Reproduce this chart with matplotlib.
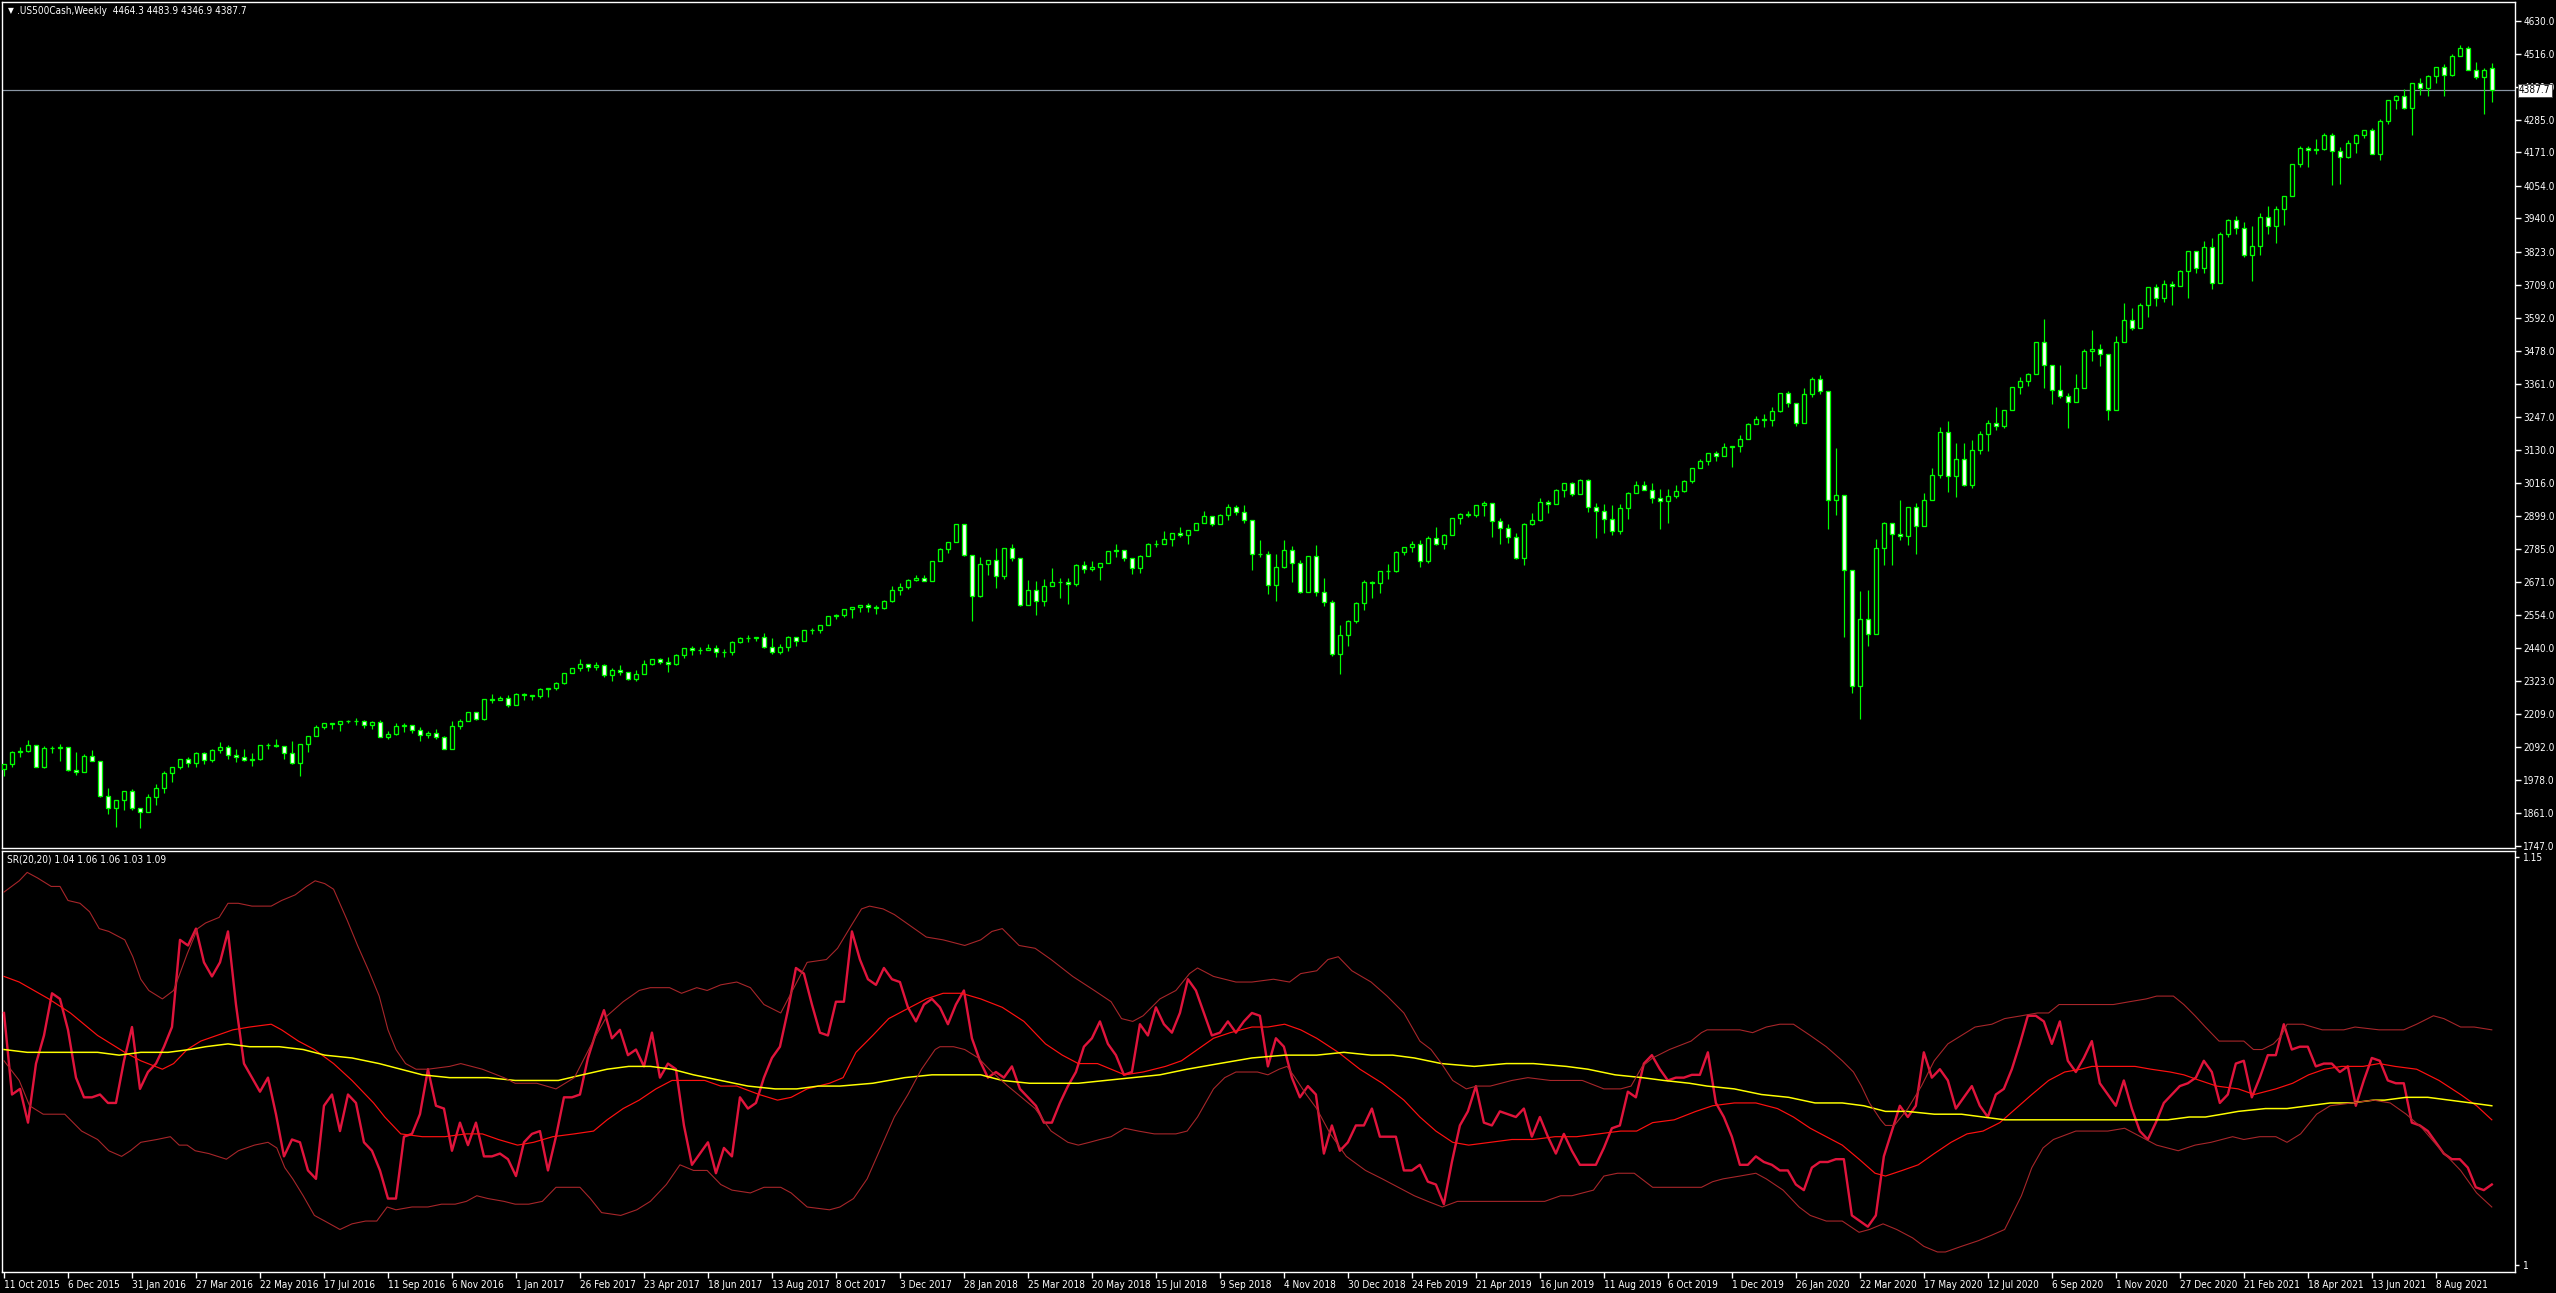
import numpy as np
import matplotlib
matplotlib.use("Agg")
import matplotlib.pyplot as plt
from matplotlib.transforms import blended_transform_factory

# weekly bars, 11 Oct 2015 .. 26 Sep 2021
opens = [
    2014.9, 2033.1, 2075.2, 2079.4, 2099.2, 2023.0, 2089.2, 2090.1, 2091.7, 2012.4, 2005.6, 2061.0,
    2043.9, 1922.0, 1880.3, 1906.9, 1940.2, 1880.1, 1864.8, 1917.8, 1948.1, 2000.0, 2022.2, 2049.6,
    2035.9, 2072.8, 2047.6, 2080.7, 2091.6, 2065.3, 2057.1, 2046.6, 2052.3, 2099.1, 2099.1, 2096.1,
    2071.2, 2037.4, 2103.0, 2129.9, 2161.7, 2175.0, 2173.6, 2182.9, 2184.1, 2183.9, 2169.0, 2180.0,
    2127.8, 2139.2, 2164.7, 2168.3, 2153.7, 2133.0, 2141.2, 2126.4, 2085.2, 2164.5, 2181.9, 2213.4,
    2192.0, 2259.5, 2258.1, 2263.8,
    2238.8, 2277.0, 2274.6, 2271.3, 2294.7, 2297.4, 2316.1, 2351.2, 2367.3, 2383.1, 2372.6, 2378.3,
    2344.0, 2362.7, 2355.5, 2329.0, 2348.7, 2384.2, 2399.3, 2390.9, 2381.7, 2415.8, 2439.1, 2431.8,
    2433.2, 2438.3, 2423.4, 2425.2, 2459.3, 2472.5, 2472.1, 2476.8, 2441.3, 2425.6, 2443.1, 2476.6,
    2461.4, 2500.2, 2502.2, 2519.4, 2549.3, 2553.2, 2575.2, 2581.1, 2587.8, 2582.3, 2578.9, 2602.4,
    2642.2, 2651.5, 2675.8, 2683.3,
    2673.6, 2743.2, 2786.2, 2810.3, 2872.9, 2762.1, 2619.6, 2732.2, 2747.3, 2691.3, 2786.6, 2752.0,
    2588.3, 2640.9, 2604.5, 2656.3, 2670.1, 2669.9, 2663.4, 2727.7, 2713.0, 2721.3, 2734.6, 2779.0,
    2779.7, 2754.9, 2718.4, 2759.8, 2801.3, 2801.8, 2818.8, 2840.4, 2833.3, 2850.1, 2874.7, 2901.5,
    2871.7, 2905.0, 2929.7, 2914.0, 2885.6, 2767.1, 2767.8, 2658.7, 2723.1, 2781.0, 2736.3, 2632.6,
    2760.2, 2633.1, 2600.0, 2416.6,
    2485.7, 2531.9, 2596.3, 2670.7, 2664.8, 2706.5, 2707.9, 2775.6, 2792.7, 2803.7, 2743.1, 2822.5,
    2800.7, 2834.4, 2892.7, 2907.4, 2905.0, 2939.9, 2945.6, 2881.4, 2859.5, 2826.1, 2752.1, 2873.3,
    2887.0, 2950.5, 2941.8, 2990.4, 3013.8, 2976.6, 3025.9, 2932.1, 2918.7, 2888.7, 2847.1, 2926.5,
    2978.7, 3007.4, 2992.1, 2961.8, 2952.0, 2970.3, 2986.2, 3022.6, 3066.9, 3093.1, 3120.5, 3110.3,
    3141.0, 3145.9, 3168.8, 3221.2,
    3240.0, 3234.9, 3265.4, 3329.6, 3295.5, 3225.5, 3327.7, 3380.2, 3337.8, 2954.2, 2972.4, 2711.0,
    2304.9, 2541.5, 2488.7, 2789.8, 2874.6, 2836.7, 2830.7, 2929.8, 2863.7, 2955.5, 3044.3, 3193.9,
    3041.3, 3097.7, 3009.1, 3130.0, 3185.0, 3224.7, 3215.6, 3271.1, 3351.3, 3372.9, 3397.2, 3508.0,
    3427.0, 3341.0, 3319.5, 3298.5, 3348.4, 3477.1, 3483.8, 3465.4, 3270.0, 3509.4, 3585.2, 3557.5,
    3638.4, 3699.1, 3663.5, 3709.4, 3703.1,
    3756.1, 3824.7, 3768.3, 3841.5, 3714.2, 3886.8, 3934.8, 3906.7, 3811.2, 3841.9, 3943.3, 3913.1,
    3974.5, 4019.9, 4128.8, 4185.5, 4180.2, 4181.2, 4232.6, 4173.9, 4155.9, 4204.1, 4229.9, 4247.4,
    4166.5, 4280.7, 4352.3, 4369.6, 4327.2, 4411.8, 4395.3, 4436.5, 4468.0, 4441.7, 4509.4, 4535.4,
    4458.6, 4433.0, 4464.3,
]
highs = [
    2034, 2079, 2094, 2116, 2086, 2097, 2095, 2104, 2090, 2076, 2067, 2081,
    2038, 1950, 1908, 1940, 1947, 1881, 1930, 1962, 2009, 2022, 2052, 2056, 2074, 2075, 2087, 2111,
    2099, 2084, 2084, 2071, 2100, 2105, 2120, 2094, 2113, 2103, 2132, 2169, 2176, 2178, 2183, 2188,
    2194, 2187, 2184, 2187, 2150, 2176, 2175, 2169, 2161, 2150, 2154, 2131, 2182, 2189, 2214, 2214,
    2260, 2278, 2272, 2273,
    2282, 2280, 2276, 2300, 2300, 2319, 2352, 2368, 2401, 2384, 2390, 2382, 2370, 2378, 2356, 2361,
    2398, 2399, 2403, 2406, 2418, 2440, 2446, 2441, 2454, 2450, 2434, 2464, 2478, 2484, 2478, 2491,
    2474, 2454, 2481, 2475, 2500, 2509, 2520, 2552, 2557, 2575, 2582, 2588, 2597, 2590, 2605, 2657,
    2665, 2679, 2695, 2692,
    2743, 2787, 2810, 2873, 2870, 2763, 2755, 2747, 2789, 2787, 2802, 2754, 2675, 2672, 2680, 2717,
    2683, 2682, 2732, 2743, 2742, 2736, 2779, 2801, 2774, 2753, 2763, 2804, 2816, 2848, 2841, 2863,
    2851, 2877, 2917, 2900, 2908, 2941, 2940, 2939, 2886, 2816, 2778, 2767, 2815, 2795, 2746, 2760,
    2800, 2685, 2607, 2520,
    2538, 2598, 2675, 2672, 2709, 2732, 2776, 2793, 2813, 2816, 2830, 2860, 2836, 2893, 2911, 2917,
    2940, 2954, 2931, 2892, 2872, 2841, 2876, 2910, 2964, 2955, 2996, 3014, 3018, 3028, 3029, 2945,
    2943, 2939, 2941, 2985, 3021, 3022, 3016, 2993, 2994, 3008, 3027, 3067, 3098, 3121, 3128, 3154,
    3146, 3183, 3226, 3248,
    3258, 3282, 3330, 3338, 3285, 3347, 3385, 3393, 3259, 3137, 2882, 2553, 2637, 2641, 2819, 2880,
    2868, 2955, 2932, 2945, 2981, 3068, 3212, 3233, 3156, 3155, 3165, 3198, 3236, 3280, 3272, 3352,
    3387, 3399, 3509, 3588, 3425, 3428, 3329, 3397, 3482, 3550, 3502, 3465, 3530, 3645, 3628, 3644,
    3699, 3712, 3726, 3723, 3760,
    3826, 3823, 3861, 3870, 3894, 3938, 3950, 3929, 3915, 3960, 3983, 3982, 4020, 4129, 4192, 4194,
    4218, 4237, 4238, 4188, 4213, 4234, 4250, 4257, 4287, 4355, 4372, 4393, 4415, 4430, 4442, 4468,
    4480, 4513, 4546, 4541, 4486, 4466, 4483.9,
]
lows = [
    1990, 2022, 2058, 2075, 2022, 2019, 2070, 2042, 2008, 1993, 2005, 2043,
    1918, 1857, 1812, 1872, 1872, 1810, 1872, 1891, 1931, 1969, 2017, 2022, 2023, 2033, 2039, 2073,
    2052, 2039, 2044, 2026, 2047, 2085, 2092, 2050, 2032, 1992, 2075, 2132, 2155, 2156, 2148, 2175,
    2168, 2160, 2157, 2127, 2119, 2133, 2145, 2142, 2114, 2124, 2119, 2084, 2097, 2156, 2183, 2188,
    2187, 2248, 2256, 2233,
    2245, 2258, 2258, 2264, 2267, 2293, 2313, 2352, 2358, 2358, 2360, 2336, 2322, 2344, 2328, 2322,
    2374, 2378, 2383, 2353, 2379, 2403, 2415, 2419, 2430, 2406, 2407, 2415, 2455, 2459, 2463, 2437,
    2417, 2418, 2428, 2447, 2474, 2488, 2491, 2520, 2540, 2547, 2544, 2566, 2566, 2557, 2576, 2598,
    2624, 2646, 2673, 2673,
    2683, 2743, 2769, 2808, 2759, 2533, 2617, 2694, 2647, 2681, 2742, 2585, 2594, 2553, 2586, 2660,
    2612, 2594, 2654, 2701, 2707, 2676, 2735, 2755, 2742, 2698, 2699, 2770, 2790, 2802, 2796, 2826,
    2802, 2850, 2876, 2864, 2873, 2887, 2903, 2874, 2710, 2755, 2628, 2603, 2717, 2670, 2631, 2649,
    2621, 2584, 2409, 2347,
    2444, 2525, 2570, 2612, 2631, 2681, 2705, 2765, 2775, 2722, 2735, 2798, 2785, 2848, 2873, 2898,
    2898, 2901, 2825, 2801, 2805, 2750, 2728, 2870, 2883, 2912, 2952, 2966, 2970, 2976, 2914, 2822,
    2840, 2834, 2836, 2891, 2979, 2990, 2946, 2856, 2874, 2963, 2984, 3016, 3066, 3078, 3091, 3115,
    3070, 3124, 3184, 3223,
    3212, 3215, 3264, 3281, 3214, 3235, 3315, 3328, 2856, 2902, 2478, 2280, 2192, 2447, 2597, 2728,
    2727, 2816, 2797, 2766, 2910, 2969, 3032, 2984, 2965, 3004, 2999, 3115, 3127, 3200, 3209, 3285,
    3327, 3355, 3405, 3349, 3293, 3313, 3209, 3324, 3354, 3441, 3424, 3234, 3279, 3512, 3551, 3559,
    3594, 3634, 3647, 3636, 3703,
    3663, 3750, 3750, 3694, 3726, 3874, 3885, 3805, 3723, 3813, 3884, 3853, 3918, 4034, 4118, 4118,
    4164, 4179, 4057, 4062, 4150, 4168, 4220, 4164, 4144, 4271, 4321, 4322, 4233, 4372, 4368, 4413,
    4367, 4437, 4513, 4457, 4428, 4305, 4346.9,
]
closes = [
    2033.1, 2075.2, 2079.4, 2099.2, 2023.0, 2089.2, 2090.1, 2091.7, 2012.4, 2005.6, 2061.0, 2043.9,
    1922.0, 1880.3, 1906.9, 1940.2, 1880.1, 1864.8, 1917.8, 1948.1, 2000.0, 2022.2, 2049.6, 2035.9,
    2072.8, 2047.6, 2080.7, 2091.6, 2065.3, 2057.1, 2046.6, 2052.3, 2099.1, 2099.1, 2096.1, 2071.2,
    2037.4, 2103.0, 2129.9, 2161.7, 2175.0, 2173.6, 2182.9, 2184.1, 2183.9, 2169.0, 2180.0, 2127.8,
    2139.2, 2164.7, 2168.3, 2153.7, 2133.0, 2141.2, 2126.4, 2085.2, 2164.5, 2181.9, 2213.4, 2192.0,
    2259.5, 2258.1, 2263.8, 2238.8,
    2277.0, 2274.6, 2271.3, 2294.7, 2297.4, 2316.1, 2351.2, 2367.3, 2383.1, 2372.6, 2378.3, 2344.0,
    2362.7, 2355.5, 2329.0, 2348.7, 2384.2, 2399.3, 2390.9, 2381.7, 2415.8, 2439.1, 2431.8, 2433.2,
    2438.3, 2423.4, 2425.2, 2459.3, 2472.5, 2472.1, 2476.8, 2441.3, 2425.6, 2443.1, 2476.6, 2461.4,
    2500.2, 2502.2, 2519.4, 2549.3, 2553.2, 2575.2, 2581.1, 2587.8, 2582.3, 2578.9, 2602.4, 2642.2,
    2651.5, 2675.8, 2683.3, 2673.6,
    2743.2, 2786.2, 2810.3, 2872.9, 2762.1, 2619.6, 2732.2, 2747.3, 2691.3, 2786.6, 2752.0, 2588.3,
    2640.9, 2604.5, 2656.3, 2670.1, 2669.9, 2663.4, 2727.7, 2713.0, 2721.3, 2734.6, 2779.0, 2779.7,
    2754.9, 2718.4, 2759.8, 2801.3, 2801.8, 2818.8, 2840.4, 2833.3, 2850.1, 2874.7, 2901.5, 2871.7,
    2905.0, 2929.7, 2914.0, 2885.6, 2767.1, 2767.8, 2658.7, 2723.1, 2781.0, 2736.3, 2632.6, 2760.2,
    2633.1, 2600.0, 2416.6, 2485.7,
    2531.9, 2596.3, 2670.7, 2664.8, 2706.5, 2707.9, 2775.6, 2792.7, 2803.7, 2743.1, 2822.5, 2800.7,
    2834.4, 2892.7, 2907.4, 2905.0, 2939.9, 2945.6, 2881.4, 2859.5, 2826.1, 2752.1, 2873.3, 2887.0,
    2950.5, 2941.8, 2990.4, 3013.8, 2976.6, 3025.9, 2932.1, 2918.7, 2888.7, 2847.1, 2926.5, 2978.7,
    3007.4, 2992.1, 2961.8, 2952.0, 2970.3, 2986.2, 3022.6, 3066.9, 3093.1, 3120.5, 3110.3, 3141.0,
    3145.9, 3168.8, 3221.2, 3240.0,
    3234.9, 3265.4, 3329.6, 3295.5, 3225.5, 3327.7, 3380.2, 3337.8, 2954.2, 2972.4, 2711.0, 2304.9,
    2541.5, 2488.7, 2789.8, 2874.6, 2836.7, 2830.7, 2929.8, 2863.7, 2955.5, 3044.3, 3193.9, 3041.3,
    3097.7, 3009.1, 3130.0, 3185.0, 3224.7, 3215.6, 3271.1, 3351.3, 3372.9, 3397.2, 3508.0, 3427.0,
    3341.0, 3319.5, 3298.5, 3348.4, 3477.1, 3483.8, 3465.4, 3270.0, 3509.4, 3585.2, 3557.5, 3638.4,
    3699.1, 3663.5, 3709.4, 3703.1, 3756.1,
    3824.7, 3768.3, 3841.5, 3714.2, 3886.8, 3934.8, 3906.7, 3811.2, 3841.9, 3943.3, 3913.1, 3974.5,
    4019.9, 4128.8, 4185.5, 4180.2, 4181.2, 4232.6, 4173.9, 4155.9, 4204.1, 4229.9, 4247.4, 4166.5,
    4280.7, 4352.3, 4369.6, 4327.2, 4411.8, 4395.3, 4436.5, 4468.0, 4441.7, 4509.4, 4535.4, 4458.6,
    4433.0, 4459.5, 4387.7,
]

# SR(20,20) main line, one value per bar
sr_main = [
    1.092, 1.063, 1.065, 1.053, 1.074, 1.084, 1.099, 1.097, 1.086, 1.069, 1.062, 1.062, 1.063, 1.060,
    1.060, 1.075, 1.087, 1.065, 1.071, 1.074, 1.080, 1.087, 1.118, 1.116, 1.122, 1.110, 1.105, 1.110,
    1.121, 1.095, 1.074, 1.069, 1.064, 1.069, 1.056, 1.041, 1.047, 1.046, 1.036, 1.033, 1.059, 1.063,
    1.050, 1.063, 1.060, 1.046, 1.043, 1.036, 1.026, 1.026, 1.048, 1.049, 1.056, 1.072, 1.059, 1.058,
    1.043, 1.053, 1.045, 1.053, 1.041, 1.041, 1.042, 1.040, 1.034, 1.046, 1.049, 1.050, 1.036, 1.048,
    1.062, 1.062, 1.063, 1.076, 1.085, 1.093, 1.083, 1.086, 1.077, 1.079, 1.073, 1.085, 1.069, 1.074,
    1.072, 1.052, 1.038, 1.042, 1.046, 1.035, 1.044, 1.041, 1.062, 1.058, 1.060, 1.069, 1.076, 1.080,
    1.093, 1.108, 1.106, 1.095, 1.085, 1.084, 1.096, 1.096,
    1.121, 1.111, 1.104, 1.102, 1.108, 1.104, 1.103, 1.094, 1.089, 1.095, 1.097, 1.094, 1.088, 1.095,
    1.100, 1.083, 1.075, 1.069, 1.071, 1.069, 1.073, 1.065, 1.062, 1.059, 1.053, 1.053, 1.060, 1.066,
    1.071, 1.080, 1.083, 1.089, 1.081, 1.077, 1.070, 1.071, 1.088, 1.084, 1.094, 1.088, 1.085, 1.092,
    1.104, 1.100, 1.092, 1.084, 1.085, 1.089, 1.085, 1.089, 1.092, 1.091, 1.073, 1.083, 1.080, 1.069,
    1.062, 1.066, 1.063, 1.042, 1.052, 1.043, 1.046, 1.052, 1.052, 1.058, 1.048, 1.048, 1.048, 1.036,
    1.036, 1.038, 1.032, 1.031, 1.024, 1.039, 1.052, 1.057, 1.066, 1.053, 1.052, 1.057, 1.056, 1.055,
    1.058, 1.048, 1.055, 1.048, 1.042, 1.049, 1.043, 1.038, 1.038, 1.038, 1.044, 1.051, 1.052, 1.064,
    1.062, 1.074, 1.077, 1.072, 1.068, 1.069,
    1.069, 1.070, 1.070, 1.078, 1.060, 1.055, 1.048, 1.038, 1.038, 1.041, 1.039, 1.038, 1.036, 1.036,
    1.031, 1.029, 1.037, 1.039, 1.039, 1.040, 1.040, 1.020, 1.018, 1.016, 1.020, 1.041, 1.050, 1.059,
    1.055, 1.059, 1.078, 1.069, 1.072, 1.068, 1.058, 1.062, 1.066, 1.059, 1.055, 1.063, 1.065, 1.072,
    1.081, 1.091, 1.091, 1.089, 1.081, 1.089, 1.075, 1.071, 1.076, 1.082, 1.067, 1.063, 1.059, 1.068,
    1.058, 1.050, 1.047, 1.053, 1.060, 1.063, 1.066, 1.067, 1.069, 1.075, 1.071, 1.060, 1.063, 1.074,
    1.075, 1.062, 1.069, 1.077, 1.077, 1.088, 1.079, 1.080, 1.080, 1.073, 1.074, 1.074, 1.071, 1.073,
    1.059, 1.068, 1.076, 1.075, 1.068, 1.067, 1.067, 1.053, 1.052, 1.050, 1.046, 1.042, 1.040, 1.040,
    1.037, 1.030, 1.029, 1.031,
]

# smoother lines, read at the bar positions given in the *_x lists
upper_x = [0, 1.9, 2.9, 4.2, 5.9, 7.0, 8.0, 9.5, 10.7, 11.9, 13.1, 15.1, 16.1, 17.1, 18.1, 19.8, 21.2,
           22.9, 24.2, 25.2, 26.9, 28.0, 29.3, 31.0, 33.4, 34.7, 36.4, 37.8, 38.9, 40.1, 41.2, 42.9,
           44.2, 45.6, 46.9, 48.0, 49.0, 50.2, 51.5, 53.0, 55.7, 57.1, 59.8, 62.5, 63.9, 66.6, 69.0,
           71.3, 74.0, 75.4, 77.4, 79.4, 80.8, 83.2, 84.7, 86.6, 87.9, 89.6, 91.6, 93.3, 95.0, 97.1,
           100.4, 102.8, 104.2, 105.9, 107.2, 108.2, 109.9, 111.3, 113.3, 115.3, 117.4, 120.1, 122.1,
           123.5, 124.8, 126.9, 128.9, 130.9, 133.6, 136.3, 138.4, 139.7, 141.1, 142.4, 144.5, 146.5,
           148.2, 149.2, 151.2, 154.0, 156.0, 158.7, 160.7, 162.1, 164.1, 165.5, 166.8, 168.5, 170.9,
           172.9, 175.0, 177.0, 178.4, 179.7, 181.1, 182.8, 184.1, 185.8, 188.5, 190.5, 193.3, 197.3,
           200.0, 202.1, 203.4, 204.8, 206.1, 208.2, 210.9, 212.2, 212.9, 214.9, 217.0, 218.6, 220.3,
           222.0, 223.7, 225.8, 227.8, 229.8, 231.2, 232.2, 233.2, 234.6, 235.2, 236.3, 238.0, 239.7,
           241.3, 243.0, 244.7, 246.4, 248.5, 250.1, 252.2, 254.2, 255.6, 256.9, 259.0, 261.0, 263.7,
           265.7, 267.8, 269.1, 271.2, 272.5, 273.9, 275.2, 276.9, 278.3, 280.0, 281.2, 282.3, 283.7,
           284.7, 285.4, 287.4, 289.8, 292.5, 293.9, 296.9, 300.0, 301.6, 303.7, 305.0, 307.1, 308.8,
           311.0]
upper_y = [1.135, 1.139, 1.142, 1.140, 1.137, 1.137, 1.132, 1.131, 1.128, 1.122, 1.121, 1.118, 1.112,
           1.104, 1.100, 1.097, 1.100, 1.113, 1.122, 1.124, 1.126, 1.131, 1.131, 1.130, 1.130, 1.132,
           1.134, 1.137, 1.139, 1.138, 1.136, 1.125, 1.116, 1.107, 1.098, 1.086, 1.079, 1.074, 1.072,
           1.072, 1.073, 1.074, 1.072, 1.069, 1.067, 1.067, 1.065, 1.069, 1.084, 1.091, 1.096, 1.100,
           1.101, 1.101, 1.099, 1.101, 1.100, 1.102, 1.103, 1.101, 1.095, 1.092, 1.110, 1.111, 1.115,
           1.123, 1.129, 1.130, 1.129, 1.127, 1.123, 1.119, 1.118, 1.116, 1.118, 1.121, 1.122, 1.116,
           1.115, 1.111, 1.105, 1.100, 1.096, 1.090, 1.089, 1.091, 1.097, 1.100, 1.106, 1.108, 1.105,
           1.103, 1.103, 1.104, 1.103, 1.106, 1.107, 1.111, 1.112, 1.107, 1.103, 1.098, 1.092, 1.082,
           1.079, 1.074, 1.068, 1.065, 1.066, 1.066, 1.068, 1.069, 1.068, 1.068, 1.065, 1.065, 1.066,
           1.073, 1.076, 1.079, 1.082, 1.085, 1.086, 1.086, 1.086, 1.085, 1.087, 1.088, 1.088, 1.084,
           1.080, 1.075, 1.071, 1.066, 1.060, 1.054, 1.052, 1.052, 1.058, 1.066, 1.075, 1.081, 1.084,
           1.087, 1.088, 1.090, 1.091, 1.092, 1.092, 1.095, 1.095, 1.095, 1.095, 1.096, 1.097, 1.098,
           1.098, 1.095, 1.091, 1.087, 1.082, 1.082, 1.082, 1.079, 1.079, 1.081, 1.084, 1.088, 1.088,
           1.086, 1.086, 1.087, 1.086, 1.086, 1.088, 1.091, 1.090, 1.087, 1.087, 1.086]

lower_x = [0, 1.9, 3.2, 4.9, 7.6, 9.7, 11.7, 13.1, 14.7, 15.8, 17.1, 19.1, 20.8, 21.9, 22.9, 23.9, 25.6,
           27.8, 29.3, 31.3, 33.0, 34.1, 35.1, 36.1, 37.4, 38.8, 40.1, 42.0, 43.5, 45.2, 46.6, 47.9,
           49.0, 51.0, 53.0, 54.7, 56.4, 57.8, 59.1, 60.5, 62.5, 63.9, 65.6, 67.3, 69.0, 70.3, 72.0,
           73.3, 74.7, 77.1, 79.1, 80.8, 82.8, 84.5, 86.2, 87.9, 89.6, 91.0, 93.3, 95.0, 97.1, 98.4,
           100.4, 103.2, 104.5, 106.2, 107.9, 109.6, 111.3, 113.0, 114.7, 116.4, 117.0, 118.7, 120.1,
           121.8, 123.5, 125.5, 127.2, 128.9, 130.9, 133.0, 134.3, 135.7, 137.0, 138.4, 140.1, 141.8,
           143.8, 146.5, 147.9, 149.2, 151.2, 152.6, 154.0, 156.7, 158.0, 159.4, 160.4, 161.4, 162.8,
           164.1, 165.8, 167.8, 170.2, 172.3, 174.3, 176.3, 178.0, 179.8, 181.7, 183.8, 185.8, 189.2,
           192.6, 194.6, 196.0, 198.7, 200.0, 201.7, 203.8, 206.1, 208.8, 212.2, 213.6, 214.9, 217.0,
           219.0, 220.3, 222.4, 224.4, 225.8, 227.8, 229.8, 231.9, 233.2, 234.9, 236.6, 238.6, 240.0,
           241.7, 242.7, 244.7, 246.8, 248.5, 250.1, 252.2, 253.5, 254.9, 256.2, 259.0, 261.0, 263.0,
           265.1, 267.1, 269.1, 271.8, 273.9, 275.9, 278.6, 280.0, 282.0, 284.0, 285.4, 287.1, 289.1,
           290.8, 293.5, 296.2, 298.3, 300.3, 302.3, 304.4, 307.1, 309.1, 311.0]
lower_y = [1.075, 1.068, 1.059, 1.056, 1.056, 1.050, 1.047, 1.043, 1.041, 1.043, 1.046, 1.047, 1.048,
           1.045, 1.045, 1.043, 1.042, 1.040, 1.043, 1.045, 1.046, 1.044, 1.037, 1.033, 1.027, 1.020,
           1.018, 1.015, 1.017, 1.018, 1.018, 1.023, 1.022, 1.023, 1.023, 1.024, 1.024, 1.025, 1.027,
           1.026, 1.025, 1.024, 1.024, 1.025, 1.030, 1.030, 1.030, 1.026, 1.021, 1.020, 1.022, 1.025,
           1.031, 1.038, 1.036, 1.036, 1.031, 1.029, 1.028, 1.030, 1.030, 1.028, 1.023, 1.022, 1.023,
           1.026, 1.033, 1.044, 1.055, 1.063, 1.072, 1.079, 1.080, 1.080, 1.079, 1.076, 1.071, 1.066,
           1.062, 1.058, 1.050, 1.046, 1.045, 1.046, 1.047, 1.048, 1.051, 1.050, 1.049, 1.049, 1.050,
           1.055, 1.065, 1.069, 1.071, 1.071, 1.070, 1.072, 1.073, 1.069, 1.063, 1.058, 1.049, 1.041,
           1.036, 1.033, 1.030, 1.027, 1.025, 1.023, 1.025, 1.025, 1.025, 1.025, 1.025, 1.027, 1.027,
           1.029, 1.034, 1.035, 1.035, 1.030, 1.030, 1.030, 1.032, 1.033, 1.034, 1.035, 1.033, 1.029,
           1.023, 1.020, 1.018, 1.018, 1.014, 1.015, 1.017, 1.015, 1.012, 1.009, 1.007, 1.007, 1.009,
           1.011, 1.013, 1.015, 1.027, 1.037, 1.044, 1.047, 1.050, 1.050, 1.050, 1.051, 1.048, 1.045,
           1.043, 1.045, 1.046, 1.048, 1.047, 1.048, 1.048, 1.046, 1.049, 1.056, 1.059, 1.060, 1.061,
           1.060, 1.056, 1.051, 1.044, 1.036, 1.028, 1.023]

mid_x = [0, 1.9, 5.6, 8.3, 11.7, 15.1, 17.1, 19.8, 21.2, 22.9, 24.6, 26.6, 28.6, 30.7, 33.4, 34.7, 36.8,
         38.8, 41.2, 43.5, 46.2, 47.6, 49.6, 52.3, 55.1, 57.8, 59.8, 61.8, 64.2, 66.2, 68.6, 71.3, 73.7,
         75.4, 77.4, 79.4, 81.5, 83.5, 85.5, 87.6, 89.6, 91.6, 94.4, 96.7, 98.4, 100.4, 103.2, 104.9,
         106.5, 108.6, 110.6, 112.6, 115.3, 117.4, 119.7, 122.1, 124.8, 127.5, 130.2, 132.3, 134.3,
         136.7, 138.4, 140.1, 142.4, 145.2, 147.2, 149.2, 151.2, 153.3, 156.0, 158.0, 160.1, 162.1,
         164.1, 166.8, 169.5, 172.3, 175.0, 177.0, 179.0, 181.1, 183.1, 185.8, 188.5, 191.2, 193.9,
         196.6, 199.4, 202.1, 204.1, 206.1, 208.8, 211.5, 213.6, 216.3, 219.0, 221.7, 223.7, 225.8,
         227.8, 229.8, 231.9, 233.9, 235.2, 237.3, 239.3, 241.3, 243.4, 245.4, 247.4, 249.5, 251.5,
         253.5, 255.6, 257.6, 259.6, 261.0, 263.7, 266.4, 268.4, 270.8, 272.5, 274.5, 276.6, 279.3,
         281.3, 284.0, 286.1, 288.1, 290.1, 292.2, 294.9, 296.9, 298.9, 301.6, 304.4, 307.1, 309.1,
         311.0]
mid_y = [1.105, 1.103, 1.097, 1.092, 1.084, 1.078, 1.075, 1.072, 1.074, 1.079, 1.082, 1.084, 1.086,
         1.087, 1.088, 1.086, 1.082, 1.079, 1.074, 1.068, 1.060, 1.055, 1.049, 1.048, 1.048, 1.049,
         1.049, 1.047, 1.045, 1.046, 1.048, 1.049, 1.050, 1.054, 1.058, 1.061, 1.065, 1.068, 1.068,
         1.068, 1.066, 1.066, 1.063, 1.061, 1.062, 1.065, 1.067, 1.069, 1.078, 1.084, 1.090, 1.093,
         1.097, 1.099, 1.099, 1.097, 1.094, 1.089, 1.081, 1.077, 1.074, 1.074, 1.072, 1.070, 1.071,
         1.073, 1.075, 1.079, 1.083, 1.085, 1.087, 1.087, 1.088, 1.086, 1.083, 1.078, 1.072, 1.067,
         1.061, 1.055, 1.050, 1.046, 1.045, 1.046, 1.047, 1.047, 1.048, 1.048, 1.049, 1.050, 1.050,
         1.053, 1.054, 1.057, 1.059, 1.060, 1.060, 1.058, 1.055, 1.051, 1.048, 1.045, 1.040, 1.035,
         1.034, 1.036, 1.038, 1.042, 1.046, 1.049, 1.050, 1.053, 1.058, 1.063, 1.068, 1.071, 1.072,
         1.073, 1.073, 1.073, 1.072, 1.071, 1.070, 1.068, 1.066, 1.065, 1.063, 1.065, 1.067, 1.070,
         1.072, 1.073, 1.073, 1.074, 1.073, 1.072, 1.068, 1.063, 1.059, 1.054]

long_x = [0, 2.9, 8.3, 11.7, 14.4, 17.1, 20.5, 23.2, 25.2, 28.0, 30.7, 34.4, 37.4, 40.1, 43.5, 46.9,
          49.6, 52.3, 55.7, 60.5, 63.9, 67.3, 69.3, 72.3, 75.4, 78.1, 80.8, 83.5, 86.2, 89.6, 93.0,
          96.4, 99.1, 101.8, 104.5, 108.6, 112.6, 116.0, 119.4, 122.1, 124.8, 128.2, 131.6, 134.3,
          137.7, 141.1, 144.5, 147.9, 151.9, 156.0, 160.1, 164.1, 167.5, 170.9, 173.6, 176.3, 179.7,
          183.8, 187.8, 191.2, 195.3, 198.0, 201.4, 204.8, 207.5, 210.7, 212.9, 216.3, 219.7, 223.1,
          226.4, 229.8, 232.5, 235.2, 237.9, 241.3, 244.7, 247.4, 250.1, 256.9, 261.0, 266.4, 270.5,
          273.2, 275.2, 277.3, 279.3, 282.7, 285.4, 288.1, 290.8, 293.5, 296.2, 297.6, 300.3, 303.0,
          305.7, 308.4, 311.0]
long_y = [1.079, 1.078, 1.078, 1.078, 1.077, 1.078, 1.078, 1.079, 1.080, 1.081, 1.080, 1.080, 1.079,
          1.077, 1.076, 1.074, 1.072, 1.070, 1.069, 1.069, 1.068, 1.068, 1.068, 1.070, 1.072, 1.073,
          1.073, 1.072, 1.070, 1.068, 1.066, 1.065, 1.065, 1.066, 1.066, 1.067, 1.069, 1.070, 1.070,
          1.070, 1.068, 1.067, 1.067, 1.067, 1.068, 1.069, 1.070, 1.072, 1.074, 1.076, 1.077, 1.077,
          1.078, 1.077, 1.077, 1.076, 1.074, 1.073, 1.074, 1.074, 1.073, 1.072, 1.070, 1.069, 1.068,
          1.067, 1.066, 1.065, 1.063, 1.062, 1.060, 1.060, 1.059, 1.057, 1.057, 1.056, 1.056, 1.055,
          1.054, 1.054, 1.054, 1.054, 1.054, 1.055, 1.055, 1.056, 1.057, 1.058, 1.058, 1.059, 1.060,
          1.060, 1.061, 1.061, 1.062, 1.062, 1.061, 1.060, 1.059]

price_ticks = [4630.0, 4516.0, 4401.0, 4285.0, 4171.0, 4054.0, 3940.0, 3823.0, 3709.0, 3592.0, 3478.0,
               3361.0, 3247.0, 3130.0, 3016.0, 2899.0, 2785.0, 2671.0, 2554.0, 2440.0, 2323.0, 2209.0,
               2092.0, 1978.0, 1861.0, 1747.0]
date_labels = ["11 Oct 2015", "6 Dec 2015", "31 Jan 2016", "27 Mar 2016", "22 May 2016", "17 Jul 2016",
               "11 Sep 2016", "6 Nov 2016", "1 Jan 2017", "26 Feb 2017", "23 Apr 2017", "18 Jun 2017",
               "13 Aug 2017", "8 Oct 2017", "3 Dec 2017", "28 Jan 2018", "25 Mar 2018", "20 May 2018",
               "15 Jul 2018", "9 Sep 2018", "4 Nov 2018", "30 Dec 2018", "24 Feb 2019", "21 Apr 2019",
               "16 Jun 2019", "11 Aug 2019", "6 Oct 2019", "1 Dec 2019", "26 Jan 2020", "22 Mar 2020",
               "17 May 2020", "12 Jul 2020", "6 Sep 2020", "1 Nov 2020", "27 Dec 2020", "21 Feb 2021",
               "18 Apr 2021", "13 Jun 2021", "8 Aug 2021"]
last_price = 4387.7

W, H = 2556, 1293
FS = 7.2
GREEN = "#00ff00"
PX = 0.72  # one pixel in points


def box(left, top, right, bottom):
    return [left / W, 1 - bottom / H, (right - left) / W, (bottom - top) / H]


plt.rcParams["font.family"] = ["DejaVu Sans"]
fig = plt.figure(figsize=(W / 100, H / 100), dpi=100, facecolor="black")
ax = fig.add_axes(box(2, 2, 2515, 848))
ax2 = fig.add_axes(box(2, 851, 2515, 1272))

for a in (ax, ax2):
    a.set_facecolor("black")
    for s in a.spines.values():
        s.set_color("white")
        s.set_linewidth(1.0)
    a.set_xlim(-0.25, 313.9)

# candles
o = np.array(opens)
hi = np.array(highs, dtype=float)
lo = np.array(lows, dtype=float)
c = np.array(closes)
x = np.arange(len(c))
up = c >= o
ax.vlines(x, lo, hi, color=GREEN, lw=PX * 1.2, zorder=2)
ax.bar(x, np.abs(c - o), bottom=np.minimum(o, c), width=0.5,
       color=np.where(up, "black", "white"), edgecolor=GREEN, linewidth=PX * 1.3, zorder=3)
ax.axhline(last_price, color="#8a96a4", lw=PX * 1.2, zorder=1)

ax.set_ylim(1739.6, 4696.4)
ax.yaxis.tick_right()
ax.set_yticks(price_ticks)
ax.set_yticklabels([f"{v:.1f}" for v in price_ticks])
ax.tick_params(axis="y", colors="white", length=4, width=1, pad=2, labelsize=FS)
ax.set_xticks([])
for t in ax.get_yticklabels():
    t.set_fontstretch("condensed")

tr = blended_transform_factory(ax.transAxes, ax.transData)
ax.text(1.0016, last_price, f"{last_price:.1f}", transform=tr, ha="left", va="center",
        fontsize=FS, color="black", fontstretch="condensed", clip_on=False, zorder=10,
        bbox=dict(facecolor="white", edgecolor="#404040", boxstyle="square,pad=0.15", lw=0.6))

# indicator window
xs = np.arange(len(sr_main))
ax2.plot(xs, sr_main, color="#e0143c", lw=PX * 2.4, zorder=3)
ax2.plot(mid_x, mid_y, color="#ff1010", lw=PX * 1.2, zorder=4)
ax2.plot(long_x, long_y, color="#ffff00", lw=PX * 1.5, zorder=5)
ax2.plot(lower_x, lower_y, color="#a8262a", lw=PX * 1.1, zorder=6)
ax2.plot(upper_x, upper_y, color="#a8262a", lw=PX * 1.1, zorder=6)
ax2.set_ylim(0.99988, 1.1496)
ax2.yaxis.tick_right()
ax2.set_yticks([1.1475, 1.0025])
ax2.set_yticklabels(["1.15", "1"])
ax2.tick_params(axis="y", colors="white", length=3, width=1, pad=3, labelsize=FS)

ax2.set_xticks(np.arange(0, 8 * len(date_labels), 8))
ax2.set_xticklabels(date_labels)
ax2.tick_params(axis="x", colors="white", length=4, width=1, pad=2, labelsize=FS)
for t in ax2.get_xticklabels():
    t.set_ha("left")
    t.set_fontstretch("condensed")
for t in ax2.get_yticklabels():
    t.set_fontstretch("condensed")

fig.text(8 / W, 1 - 11 / H, "\u25bc", color="white", fontsize=5.5, ha="left", va="center")
fig.text(17 / W, 1 - 11 / H, ".US500Cash,Weekly  4464.3 4483.9 4346.9 4387.7", color="white",
         fontsize=FS, ha="left", va="center", fontstretch="condensed")
fig.text(7 / W, 1 - 860 / H, "SR(20,20) 1.04 1.06 1.06 1.03 1.09", color="white",
         fontsize=FS, ha="left", va="center", fontstretch="condensed")

fig.savefig("out.png", dpi=100, facecolor="black")
